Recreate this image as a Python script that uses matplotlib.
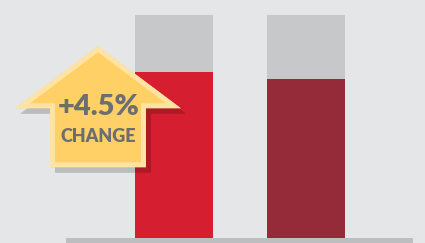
import matplotlib.pyplot as plt
from matplotlib.patches import Polygon, Rectangle

# data
categories = ['Before', 'After']
totals = [100, 100]
values = [74.6, 71.3]
bar_colors = ['#d51f30', '#952b38']
change_label = '+4.5%'
change_word = 'CHANGE'

W, H = 425, 243
bg = '#e5e6e8'

fig = plt.figure(figsize=(W / 100, H / 100), dpi=100, facecolor=bg)

# bar axes, y=0 sits at pixel row 238 and y=100 at row 15
ax = fig.add_axes([0, (H - 238) / H, 1, 223 / H])
ax.set_facecolor('none')
x = list(range(len(categories)))
width = 78 / 132
ax.bar(x, totals, width=width, color='#c7c8ca')
ax.bar(x, values, width=width, color=bar_colors)
ax.set_xlim(-174 / 132, (W - 174) / 132)
ax.set_ylim(0, 100)
ax.axis('off')

# overlay in pixel units for the decorations
ov = fig.add_axes([0, 0, 1, 1])
ov.set_xlim(0, W)
ov.set_ylim(H, 0)
ov.axis('off')
ov.set_facecolor('none')

ov.add_patch(Rectangle((66, 237.7), 347, 6, color='#bdbec0', lw=0))

arrow = [(98, 46), (181, 108.3), (146, 108.3), (146, 167.3),
         (50, 167.3), (50, 108.3), (15, 108.3)]
shadow = [(px + 5, py + 5.5) for px, py in arrow]
ov.add_patch(Polygon(shadow, closed=True, facecolor='black', alpha=0.18, lw=0))

p = Polygon(arrow, closed=True, facecolor='#fed065', edgecolor='#fee3a3',
            lw=7.2, joinstyle='miter')
ov.add_patch(p)
p.set_clip_path(p)

ov.text(99, 107, change_label, ha='center', va='center', color='#6d6e71',
        fontsize=21, fontweight='heavy', family='Lato')
ov.text(98, 136, change_word, ha='center', va='center', color='#6d6e71',
        fontsize=13, fontweight='heavy', family='Lato')

fig.savefig('out.png', dpi=100, facecolor=bg)
